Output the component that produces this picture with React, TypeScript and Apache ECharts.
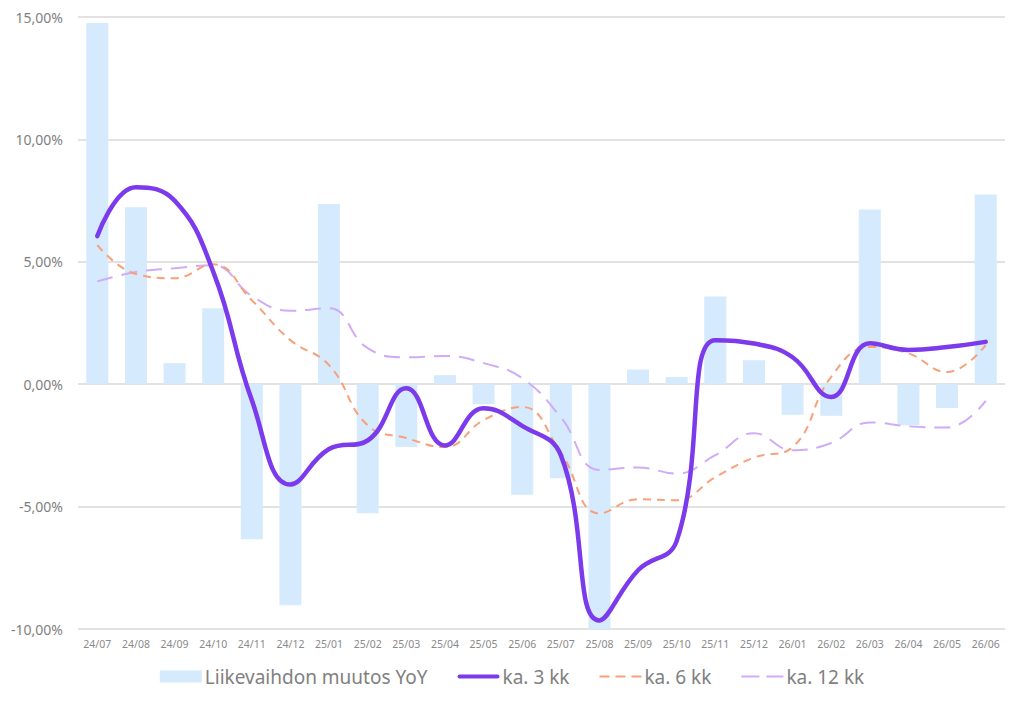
import React, { useEffect, useRef } from "react";
import * as echarts from "echarts";

const categories = [
  "24/07", "24/08", "24/09", "24/10", "24/11", "24/12",
  "25/01", "25/02", "25/03", "25/04", "25/05", "25/06",
  "25/07", "25/08", "25/09", "25/10", "25/11", "25/12",
  "26/01", "26/02", "26/03", "26/04", "26/05", "26/06",
];

const yoyChange = [
  14.75, 7.23, 0.86, 3.1, -6.33, -9.03,
  7.36, -5.27, -2.57, 0.37, -0.82, -4.52,
  -3.84, -10.0, 0.6, 0.29, 3.58, 0.98,
  -1.25, -1.29, 7.14, -1.68, -0.97, 7.75,
];

const avg3 = [
  6.05, 8.05, 7.5, 4.6, -0.65, -4.1,
  -2.65, -2.3, -0.17, -2.5, -0.98, -1.7,
  -2.9, -9.65, -7.6, -6.4, 1.8, 1.66,
  1.1, -0.52, 1.67, 1.4, 1.52, 1.73,
];

const avg6 = [
  5.68, 4.5, 4.33, 4.9, 3.43, 1.8,
  0.78, -1.68, -2.2, -2.57, -1.47, -0.93,
  -2.8, -5.28, -4.7, -4.74, -3.8, -3.0,
  -2.57, 0.3, 1.52, 1.26, 0.5, 1.6,
];

const avg12 = [
  4.2, 4.58, 4.74, 4.86, 3.6, 3.0,
  3.1, 1.47, 1.1, 1.15, 0.86, 0.25,
  -1.35, -3.5, -3.4, -3.65, -2.9, -2.0,
  -2.7, -2.4, -1.56, -1.72, -1.77, -0.68,
];

const seriesNames = ["Liikevaihdon muutos YoY", "ka. 3 kk", "ka. 6 kk", "ka. 12 kk"];

const FONT = "'Noto Sans', Lato, sans-serif";

// Legend icons (bounding points at corners keep the 42x12 box unstretched)
const BOX = "M0,0h0.05v0.05h-0.05z M41.95,11.95h0.05v0.05h-0.05z ";
const ICON_SOLID = "path://" + BOX + "M2,4h38a2,2 0 0 1 0,4h-38a2,2 0 0 1 0,-4z";
const ICON_SHORT = "path://" + BOX + "M0,5h10v2h-10z M16,5h10v2h-10z M32,5h10v2h-10z";
const ICON_LONG = "path://" + BOX + "M0,5h18v2h-18z M25,5h17v2h-17z";

export default function App() {
  const ref = useRef<HTMLDivElement>(null);

  useEffect(() => {
    if (!ref.current) return;
    const chart = echarts.init(ref.current, undefined, { renderer: "svg" });
    chart.setOption({
      animation: false,
      backgroundColor: "#ffffff",
      textStyle: { fontFamily: FONT },
      grid: { left: 78, right: 19, top: 17, bottom: 79, containLabel: false },
      legend: {
        bottom: 17,
        left: "center",
        itemGap: 30,
        itemWidth: 42,
        itemHeight: 12,
        textStyle: { color: "#808080", fontSize: 19, fontFamily: FONT, padding: [0, 0, 0, -2] },
        data: [
          { name: seriesNames[0], icon: "rect" },
          { name: seriesNames[1], icon: ICON_SOLID },
          { name: seriesNames[2], icon: ICON_SHORT },
          { name: seriesNames[3], icon: ICON_LONG },
        ],
      },
      xAxis: {
        type: "category",
        data: categories,
        axisLine: { show: false },
        axisTick: { show: false },
        axisLabel: { color: "#8a8a8a", fontSize: 10.5, margin: 9, interval: 0 },
      },
      yAxis: {
        type: "value",
        min: -10,
        max: 15,
        interval: 5,
        axisLine: { show: false },
        axisTick: { show: false },
        splitLine: { lineStyle: { color: "#d9d9d9", width: 1.5 } },
        axisLabel: {
          color: "#7f7f7f",
          fontSize: 14,
          margin: 15,
          formatter: (v: number) => v.toFixed(2).replace(".", ",") + "%",
        },
      },
      series: [
        {
          name: seriesNames[0],
          type: "bar",
          data: yoyChange,
          barWidth: 22,
          itemStyle: { color: "#d5eafc" },
        },
        {
          name: seriesNames[1],
          type: "line",
          data: avg3,
          smooth: 0.45,
          symbol: "none",
          lineStyle: { color: "#7c3aed", width: 4.5, cap: "round" },
          itemStyle: { color: "#7c3aed" },
          z: 5,
        },
        {
          name: seriesNames[2],
          type: "line",
          data: avg6,
          smooth: 0.45,
          symbol: "none",
          lineStyle: { color: "#f7a07a", width: 2, type: [8, 6] },
          itemStyle: { color: "#f7a07a" },
          z: 4,
        },
        {
          name: seriesNames[3],
          type: "line",
          data: avg12,
          smooth: 0.45,
          symbol: "none",
          lineStyle: { color: "#cfabf8", width: 2, type: [16, 9] },
          itemStyle: { color: "#cfabf8" },
          z: 3,
        },
      ],
    });
    return () => chart.dispose();
  }, []);

  return (
    <div
      ref={ref}
      style={{ position: "fixed", left: 0, top: 0, width: 1024, height: 708, background: "#fff" }}
    />
  );
}
